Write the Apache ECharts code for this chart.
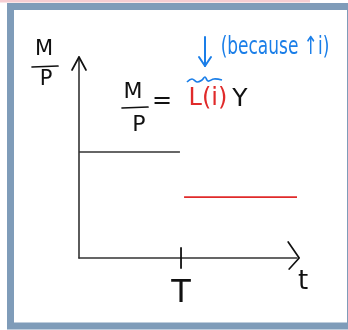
<!DOCTYPE html>
<html>
<head>
<meta charset="utf-8">
<script src="https://cdn.jsdelivr.net/npm/echarts@6/dist/echarts.min.js"></script>
<style>
  html, body { margin: 0; padding: 0; background: #fff; }
  #main { width: 348px; height: 330px; }
</style>
</head>
<body>
<div id="main"></div>
<script>
// time axis 0..10, T marks the shock
var T = 4.68;
var xRange = [0, 10];
var yRange = [0, 10];
// real money demand before T (black) and after T (red)
var before = [[0, 5.27], [4.63, 5.27]];
var after = [[4.82, 3.03], [10, 3.03]];
var tickLabels = ['T'];

var ink = '#333333';
var hand = 'DejaVu Sans';

var chart = echarts.init(document.getElementById('main'));

function txt(text, x, y, size, color, extra) {
    var el = {
        type: 'text', x: x, y: y, z: 10,
        style: {
            text: text, fill: color || '#111', fontSize: size,
            fontFamily: hand, align: 'center', verticalAlign: 'middle'
        }
    };
    if (extra) Object.assign(el, extra);
    return el;
}
function seg(x1, y1, x2, y2, color, w) {
    return {
        type: 'line', z: 10,
        shape: { x1: x1, y1: y1, x2: x2, y2: y2 },
        style: { stroke: color || '#111', lineWidth: w || 1.7, lineCap: 'round' }
    };
}
function poly(pts, color, w) {
    return {
        type: 'polyline', z: 10,
        shape: { points: pts },
        style: { stroke: color || '#111', lineWidth: w || 1.7, fill: 'none', lineCap: 'round', lineJoin: 'round' }
    };
}

chart.setOption({
    animation: false,
    grid: { left: 79, right: 51, top: 57, bottom: 72 },
    xAxis: {
        type: 'value', min: xRange[0], max: xRange[1],
        splitLine: { show: false },
        axisLine: { lineStyle: { color: ink, width: 1.6 } },
        axisTick: { show: false },
        axisLabel: {
            customValues: [T],
            formatter: function () { return tickLabels[0]; },
            color: '#111', fontSize: 32, fontFamily: hand, margin: 20
        }
    },
    yAxis: {
        type: 'value', min: yRange[0], max: yRange[1],
        splitLine: { show: false },
        axisLine: { show: true, lineStyle: { color: ink, width: 1.6 } },
        axisTick: { show: false },
        axisLabel: { show: false }
    },
    series: [
        {
            type: 'line', data: before, symbol: 'none',
            lineStyle: { color: ink, width: 1.6 }
        },
        {
            type: 'line', data: after, symbol: 'none',
            lineStyle: { color: '#e02a2a', width: 1.6 }
        }
    ]
});

// arrow heads and the T tick, placed through the axes
function px(p) { return chart.convertToPixel({ gridIndex: 0 }, p); }
var yTip = px([0, yRange[1]]);
var xTip = px([xRange[1] + 0.1, 0]);
var tTop = px([T, 0.5]);
var tBot = px([T, -0.5]);

chart.setOption({
    graphic: [
        { type: 'rect', shape: { x: 0, y: 0, width: 310, height: 2.5 }, style: { fill: '#f6cdd2' } },
        {
            type: 'rect', shape: { x: 10.5, y: 6.5, width: 340, height: 319.5 },
            style: { fill: 'none', stroke: '#7f9cb9', lineWidth: 7 }
        },
        poly([[yTip[0] - 7, yTip[1] + 13], yTip, [yTip[0] + 7, yTip[1] + 13]]),
        poly([[xTip[0] - 11, xTip[1] - 16], xTip, [xTip[0] - 10, xTip[1] + 11]]),
        seg(tTop[0], tTop[1], tBot[0], tBot[1], '#111', 1.8),
        // M/P axis name
        txt('M', 44, 50, 21),
        seg(32, 67, 58, 66),
        txt('P', 46, 80, 21),
        // equation M/P = L(i) Y
        txt('M', 133, 92, 22),
        seg(122, 108, 148, 107),
        txt('P', 139, 125, 22),
        txt('=', 162, 102, 24),
        txt('L(i)', 208, 99, 24, '#e02a2a'),
        txt('Y', 240, 99, 25),
        // blue note
        seg(205, 37, 205, 66, '#1a7ee8', 2),
        poly([[199, 57], [205, 66], [211, 57]], '#1a7ee8', 2),
        txt('(because ↑i)', 275, 47, 25, '#1a7ee8', { scaleX: 0.68 }),
        {
            type: 'polyline', z: 10,
            shape: { points: [[187, 82], [192, 79], [197, 82], [202, 80], [205, 77], [208, 81], [214, 79], [222, 80]], smooth: 0.4 },
            style: { stroke: '#1a7ee8', lineWidth: 1.7, fill: 'none' }
        },
        // time label
        txt('t', 303, 282, 26)
    ]
});
</script>
</body>
</html>
